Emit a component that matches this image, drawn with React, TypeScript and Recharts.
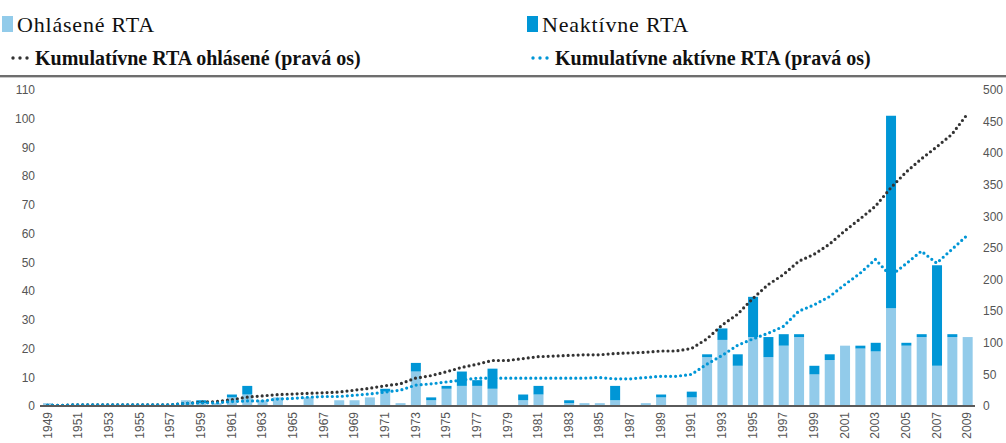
import React from "react";
import { ComposedChart, Bar, Line, XAxis, YAxis } from "recharts";

const years = [
  "1949", "1950", "1951", "1952", "1953", "1954", "1955", "1956", "1957", "1958",
  "1959", "1960", "1961", "1962", "1963", "1964", "1965", "1966", "1967", "1968",
  "1969", "1970", "1971", "1972", "1973", "1974", "1975", "1976", "1977", "1978",
  "1979", "1980", "1981", "1982", "1983", "1984", "1985", "1986", "1987", "1988",
  "1989", "1990", "1991", "1992", "1993", "1994", "1995", "1996", "1997", "1998",
  "1999", "2000", "2001", "2002", "2003", "2004", "2005", "2006", "2007", "2008",
  "2009",
];

// light blue segment (left axis)
const ohlasene = [
  1, 0, 0, 0, 0, 0, 0, 0, 0, 2,
  1, 1, 3, 4, 2, 3, 0, 3, 0, 2,
  2, 3, 5, 1, 12, 2, 6, 7, 7, 6,
  0, 2, 4, 0, 1, 1, 1, 2, 0, 1,
  3, 0, 3, 17, 23, 14, 24, 17, 21, 24,
  11, 16, 21, 20, 19, 34, 21, 24, 14, 24,
  24,
];

// dark blue segment stacked on top
const neaktivne = [
  0, 0, 0, 0, 0, 0, 0, 0, 0, 0,
  1, 0, 1, 3, 0, 0, 0, 0, 0, 0,
  0, 0, 1, 0, 3, 1, 1, 5, 2, 7,
  0, 2, 3, 0, 1, 0, 0, 5, 0, 0,
  1, 0, 2, 1, 4, 4, 14, 7, 4, 1,
  3, 2, 0, 1, 3, 67, 1, 1, 35, 1,
  0,
];

// right axis
const kumOhlasene = [
  1, 1, 2, 2, 2, 2, 2, 2, 2, 4,
  6, 7, 10, 14, 16, 18, 19, 20, 21, 22,
  25, 28, 32, 35, 44, 48, 54, 61, 66, 72,
  72, 75, 78, 79, 80, 81, 81, 83, 84, 85,
  87, 87, 91, 106, 128, 145, 170, 192, 208, 229,
  240, 256, 277, 296, 316, 345, 370, 391, 410, 430,
  462,
];

const kumAktivne = [
  1, 1, 2, 2, 2, 2, 2, 2, 2, 4,
  5, 5, 7, 8, 8, 11, 12, 14, 15, 15,
  17, 19, 22, 25, 33, 35, 38, 41, 44, 44,
  44, 44, 44, 44, 44, 44, 45, 43, 43, 45,
  47, 47, 50, 66, 80, 96, 106, 115, 126, 150,
  160, 173, 192, 210, 232, 206, 225, 245, 226, 248,
  270,
];

const leftTicks = [0, 10, 20, 30, 40, 50, 60, 70, 80, 90, 100, 110];
const rightTicks = [0, 50, 100, 150, 200, 250, 300, 350, 400, 450, 500];

const LIGHT = "#92cbea";
const DARK = "#0096d6";
const BLACK = "#333333";

const data = years.map((y, i) => ({
  year: y,
  ohlasene: ohlasene[i],
  neaktivne: neaktivne[i],
  kumOhlasene: kumOhlasene[i],
  kumAktivne: kumAktivne[i],
}));

const YearTick = ({ x, y, payload }: any) => (
  <text
    x={x}
    y={y}
    transform={`rotate(-90, ${x}, ${y})`}
    textAnchor="end"
    dominantBaseline="central"
    fill="#555"
    fontSize={12}
    fontFamily="Liberation Sans, Arial, sans-serif"
  >
    {payload.value}
  </text>
);

const Dots = ({ color }: { color: string }) => (
  <svg width={20} height={6} style={{ display: "block" }}>
    {[3, 10, 17].map((cx) => (
      <circle key={cx} cx={cx} cy={3} r={1.7} fill={color} />
    ))}
  </svg>
);

const legendText: React.CSSProperties = {
  position: "absolute",
  fontFamily: "Liberation Serif, Times New Roman, serif",
  color: "#111",
  whiteSpace: "nowrap",
  lineHeight: "20px",
};

const row1: React.CSSProperties = { ...legendText, top: 15, fontSize: 22, letterSpacing: 0.8 };
const row2: React.CSSProperties = { ...legendText, top: 48, fontSize: 20, fontWeight: "bold" };

export default function App() {
  return (
    <div style={{ position: "absolute", left: 0, top: 0, width: 1006, height: 443, background: "#fff" }}>
      <ComposedChart
        width={1006}
        height={443}
        data={data}
        margin={{ top: 90, right: 0, bottom: 0, left: 0 }}
        barSize={10}
      >
        <XAxis
          dataKey="year"
          interval={1}
          tick={<YearTick />}
          tickLine={false}
          tickSize={4}
          tickMargin={2}
          height={37}
          axisLine={{ stroke: "#5a5a5a", strokeWidth: 2 }}
        />
        <YAxis
          yAxisId="left"
          domain={[0, 110]}
          ticks={leftTicks}
          width={40}
          axisLine={false}
          tickLine={false}
          tickSize={3}
          tickMargin={2}
          tick={{ fill: "#555", fontSize: 12, fontFamily: "Liberation Sans, Arial, sans-serif" }}
        />
        <YAxis
          yAxisId="right"
          orientation="right"
          domain={[0, 500]}
          ticks={rightTicks}
          width={31}
          axisLine={false}
          tickLine={false}
          tickSize={6}
          tickMargin={2}
          tick={{ fill: "#555", fontSize: 12, fontFamily: "Liberation Sans, Arial, sans-serif" }}
        />
        <Bar yAxisId="left" dataKey="ohlasene" stackId="a" fill={LIGHT} isAnimationActive={false} />
        <Bar yAxisId="left" dataKey="neaktivne" stackId="a" fill={DARK} isAnimationActive={false} />
        <Line
          yAxisId="right"
          type="linear"
          dataKey="kumOhlasene"
          stroke={BLACK}
          strokeWidth={3.2}
          strokeLinecap="round"
          strokeDasharray="0 5"
          dot={false}
          isAnimationActive={false}
        />
        <Line
          yAxisId="right"
          type="linear"
          dataKey="kumAktivne"
          stroke={DARK}
          strokeWidth={3.2}
          strokeLinecap="round"
          strokeDasharray="0 5"
          dot={false}
          isAnimationActive={false}
        />
      </ComposedChart>

      {/* legend */}
      <div style={{ position: "absolute", left: 2, top: 16, width: 11, height: 16, background: LIGHT }} />
      <div style={{ ...row1, left: 17 }}>Ohlásené RTA</div>
      <div style={{ position: "absolute", left: 527, top: 16, width: 11, height: 16, background: DARK }} />
      <div style={{ ...row1, left: 542 }}>Neaktívne RTA</div>

      <div style={{ position: "absolute", left: 10, top: 55 }}>
        <Dots color={BLACK} />
      </div>
      <div style={{ ...row2, left: 35 }}>Kumulatívne RTA ohlásené (pravá os)</div>
      <div style={{ position: "absolute", left: 530, top: 55 }}>
        <Dots color={DARK} />
      </div>
      <div style={{ ...row2, left: 555 }}>Kumulatívne aktívne RTA (pravá os)</div>

      <div style={{ position: "absolute", left: 0, top: 75, width: 1006, height: 2, background: "#6e6e6e" }} />
      <div style={{ position: "absolute", left: 0, top: 77, width: 1006, height: 1, background: "#c8c8c8" }} />
    </div>
  );
}
